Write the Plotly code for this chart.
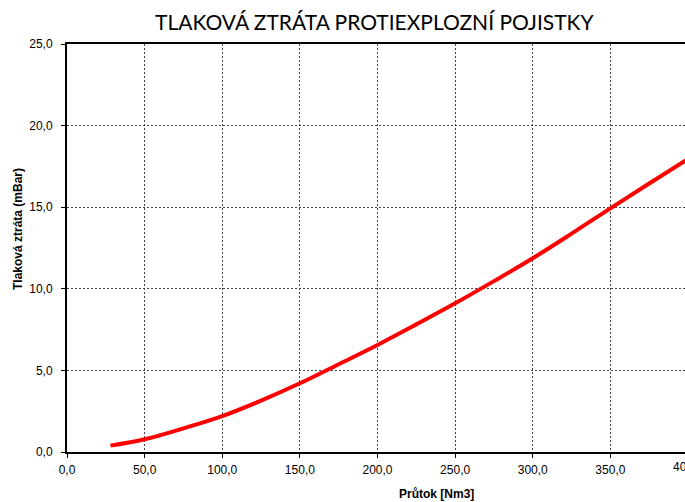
import plotly.graph_objects as go

flow = [28, 50, 75, 100, 125, 150, 175, 200, 225, 250, 275, 300, 325, 350, 375, 400]
loss = [0.39, 0.78, 1.45, 2.2, 3.15, 4.21, 5.38, 6.56, 7.82, 9.11, 10.47, 11.87, 13.38, 14.93, 16.45, 17.95]

x_ticks = [0, 50, 100, 150, 200, 250, 300, 350, 400]
y_ticks = [0, 5, 10, 15, 20, 25]

title_text = "TLAKOVÁ ZTRÁTA PROTIEXPLOZNÍ POJISTKY"
x_title = "Průtok [Nm3]"
y_title = "Tlaková ztráta (mBar)"

W, H = 685, 502
L, R, T, B = 67, 0, 44, 50
plot_w = W - L - R
plot_h = H - T - B
x_max = 400 * plot_w / 621.0

narrow = "Liberation Sans Narrow, Arial Narrow, Liberation Sans, Arial"
tick_font = dict(family=narrow, size=12, color="#000")

fig = go.Figure()
fig.add_trace(go.Scatter(x=flow, y=loss, mode="lines",
                         line=dict(color="#ff0000", width=4, shape="spline"),
                         showlegend=False, hoverinfo="skip"))

fig.update_layout(
    width=W, height=H,
    margin=dict(l=L, r=R, t=T, b=B, pad=0),
    paper_bgcolor="white", plot_bgcolor="white",
    separators=", ",
    showlegend=False,
)
fig.update_xaxes(range=[0, x_max], tickvals=x_ticks, tickformat=".1f",
                 showgrid=True, gridcolor="#444", gridwidth=1, griddash="2px,2px",
                 showline=True, linecolor="#000", linewidth=2, mirror=True,
                 ticks="outside", ticklen=4, tickcolor="#000", tickwidth=1,
                 ticklabelstandoff=2,
                 tickfont=tick_font, zeroline=False, fixedrange=True)
fig.update_yaxes(range=[0, 25], tickvals=y_ticks, tickformat=".1f",
                 showgrid=True, gridcolor="#444", gridwidth=1, griddash="2px,2px",
                 showline=True, linecolor="#000", linewidth=2,
                 ticks="outside", ticklen=4, tickcolor="#000", tickwidth=1,
                 ticklabelstandoff=6,
                 tickfont=tick_font, zeroline=False, fixedrange=True)

# title
fig.add_annotation(text=title_text, xref="paper", yref="paper",
                   x=(375 - L) / plot_w, y=1 + (44 - 22) / plot_h,
                   showarrow=False, xanchor="center", yanchor="middle",
                   font=dict(family="Lato, Open Sans, sans-serif", size=21, color="#000"))
# axis titles
fig.add_annotation(text="<b>" + x_title + "</b>", xref="paper", yref="paper",
                   x=(436 - L) / plot_w, y=-(494 - 452) / plot_h,
                   showarrow=False, xanchor="center", yanchor="middle",
                   font=dict(family=narrow, size=12, color="#000"))
fig.add_annotation(text="<b>" + y_title + "</b>", xref="paper", yref="paper",
                   x=-(L - 18) / plot_w, y=(452 - 229) / plot_h,
                   showarrow=False, xanchor="center", yanchor="middle", textangle=-90,
                   font=dict(family=narrow, size=12, color="#000"))
# last tick label, cut off at the right edge as in the reference
fig.add_annotation(text="400,0", xref="paper", yref="paper",
                   x=400 / x_max, y=-(467 - 452) / plot_h,
                   showarrow=False, xanchor="center", yanchor="middle",
                   font=tick_font)

fig.write_html("out.html",
               config={"displayModeBar": False, "staticPlot": True},
               post_script="document.body.style.margin='0';document.body.style.overflow='hidden';")
